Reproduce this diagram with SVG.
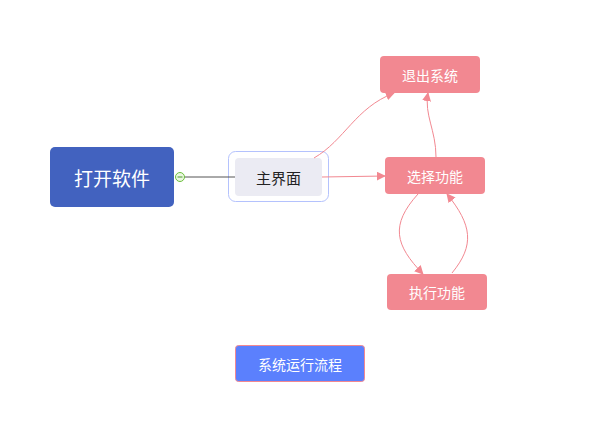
<svg xmlns="http://www.w3.org/2000/svg" width="594" height="430" viewBox="0 0 594 430">
<defs>
<style>
.t{font-family:"Noto Sans CJK SC","Noto Sans",sans-serif;text-anchor:middle;dominant-baseline:central}
.w{fill:#ffffff}
.pink{fill:#f28891}
.c{fill:none;stroke:#f28891;stroke-width:1}
</style>
<marker id="ah" viewBox="0 0 10 10" refX="9" refY="5" markerWidth="9" markerHeight="9" markerUnits="userSpaceOnUse" orient="auto">
<path d="M0,0 L10,5 L0,10 Z" fill="#f28891"/>
</marker>
</defs>
<rect width="594" height="430" fill="#ffffff"/>
<g id="n-main">
<rect x="228.5" y="151.5" width="100" height="50" rx="7" fill="none" stroke="#b4c2fd" stroke-width="1"/>
<rect x="235" y="158" width="87" height="38" rx="4" fill="#ebebf3"/>
<text class="t" x="278.5" y="177" font-size="15" fill="#222">主界面</text>
</g>
<g id="connectors">
<line x1="184" y1="177" x2="235" y2="177" stroke="#555" stroke-width="1"/>
<path class="c" d="M314,158 C345,140 355,108 394,93" marker-end="url(#ah)"/>
<path class="c" d="M322,177 L385,176" marker-end="url(#ah)"/>
<path class="c" d="M436,157 C436,130 424,115 428,93" marker-end="url(#ah)"/>
<path class="c" d="M418,194 C390,225 395,245 423,274" marker-end="url(#ah)"/>
<path class="c" d="M452,273 C475,245 472,225 447,194" marker-end="url(#ah)"/>
</g>
<g id="n-open">
<rect x="50" y="147" width="124" height="60" rx="5" fill="#4262bf"/>
<text class="t w" x="112" y="177" font-size="19">打开软件</text>
</g>
<g id="n-toggle">
<circle cx="180" cy="177" r="4.5" fill="#eaf7e0" stroke="#6cbf3c" stroke-width="1"/>
<line x1="177.5" y1="177" x2="182.5" y2="177" stroke="#4a9a2a" stroke-width="1"/>
</g>
<g id="n-exit">
<rect x="380" y="56" width="100" height="37" rx="4" class="pink"/>
<text class="t w" x="430" y="74.5" font-size="14">退出系统</text>
</g>
<g id="n-select">
<rect x="385" y="157" width="100" height="37" rx="4" class="pink"/>
<text class="t w" x="435" y="175.5" font-size="14">选择功能</text>
</g>
<g id="n-exec">
<rect x="387" y="274" width="100" height="36" rx="4" class="pink"/>
<text class="t w" x="437" y="292" font-size="14">执行功能</text>
</g>
<g id="n-title">
<rect x="235.5" y="345.5" width="129" height="36" rx="3" fill="#5b80fd" stroke="#f28891" stroke-width="1"/>
<text class="t w" x="300" y="363.5" font-size="14">系统运行流程</text>
</g>
</svg>
